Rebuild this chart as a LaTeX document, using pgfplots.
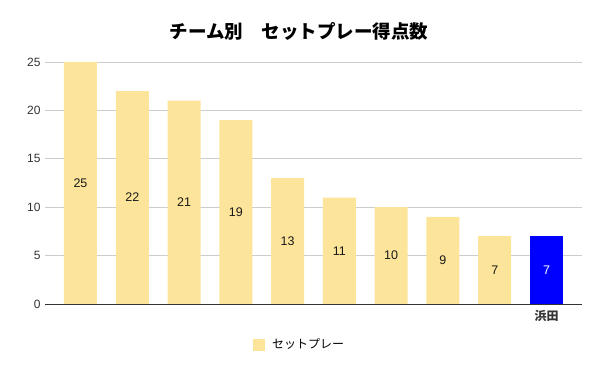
\documentclass[border=0pt]{standalone}
\usepackage{pgfplots}
\pgfplotsset{compat=1.18}
\usepackage{fontspec}
\setmainfont{Liberation Sans}
\newfontfamily\jp{Noto Sans CJK JP}
\definecolor{baryellow}{HTML}{FDE49B}
\definecolor{gridgray}{HTML}{CCCCCC}
\definecolor{axisdark}{HTML}{333333}
\begin{document}
\begin{tikzpicture}[x=1pt,y=1pt]
\useasboundingbox (0,0) rectangle (600,371);
\node[font=\jp\bfseries\fontsize{18.5}{22}\selectfont] at (299,339.5) {チーム別　セットプレー得点数};
\begin{axis}[
  at={(45pt,67pt)}, anchor=south west,
  scale only axis, width=537pt, height=242pt,
  xmin=-0.685, xmax=9.685, ymin=0, ymax=25,
  ytick={0,5,10,15,20,25},
  xtick={9}, xticklabels={{\jp\bfseries 浜田}},
  major tick length=0pt,
  ymajorgrids, grid style={gridgray, line width=0.8pt},
  axis line style={draw=none},
  tick label style={font=\fontsize{12}{14}\selectfont, text=black!80},
  /pgf/number format/assume math mode=true,
  yticklabel style={xshift=-1pt},
  xticklabel style={yshift=-3pt},
  legend style={at={(0.474,-0.168)}, anchor=center, draw=none, font=\jp\fontsize{12}{14}\selectfont,
    legend cell align=left},
  legend image code/.code={\fill[#1] (0pt,-6pt) rectangle (12pt,6pt); \path (17pt,0pt);},
  clip=false,
]
\addplot[ybar, bar width=33pt, bar shift=0pt, fill=baryellow, draw=none]
  coordinates {(0,25) (1,22) (2,21) (3,19) (4,13) (5,11) (6,10) (7,9) (8,7)};
\addlegendentry{セットプレー}
\addplot[ybar, bar width=33pt, bar shift=0pt, fill=blue, draw=none, forget plot]
  coordinates {(9,7)};
\draw[axisdark, line width=0.9pt] (rel axis cs:0,0) -- (rel axis cs:1,0);
\addplot[only marks, mark=none, forget plot, nodes near coords, point meta=explicit symbolic,
  every node near coord/.append style={anchor=center, font=\fontsize{12.5}{14}\selectfont, text=black!90}]
  coordinates {(0,12.5)[25] (1,11)[22] (2,10.5)[21] (3,9.5)[19] (4,6.5)[13] (5,5.5)[11] (6,5)[10] (7,4.5)[9] (8,3.5)[7]};
\addplot[only marks, mark=none, forget plot, nodes near coords, point meta=explicit symbolic,
  every node near coord/.append style={anchor=center, font=\fontsize{12.5}{14}\selectfont, text=white}]
  coordinates {(9,3.5)[7]};
\end{axis}
\end{tikzpicture}
\end{document}
